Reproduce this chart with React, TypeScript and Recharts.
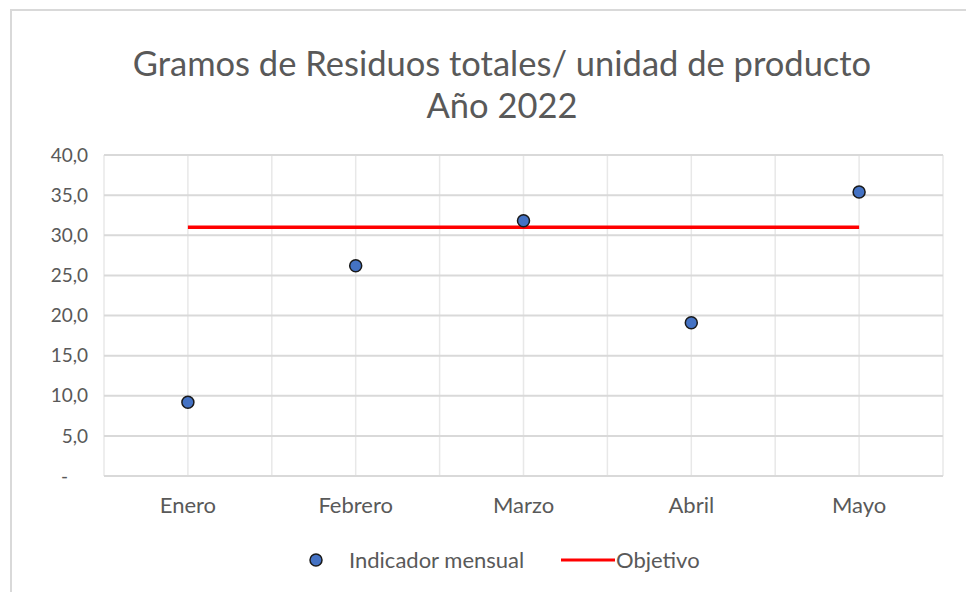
import React from "react";
import { ComposedChart, Line, XAxis, YAxis, CartesianGrid } from "recharts";

const months = ["Enero", "Febrero", "Marzo", "Abril", "Mayo"];
const indicador = [9.2, 26.2, 31.8, 19.1, 35.4];
const objetivo = [31.0, 31.0, 31.0, 31.0, 31.0];
const yTicks = [0, 5, 10, 15, 20, 25, 30, 35, 40];

const data = months.map((m, i) => ({ month: m, indicador: indicador[i], objetivo: objetivo[i] }));

const FONT = "Lato, 'Open Sans', sans-serif";
const TXT = "#595959";

const YTick = (props: any) => {
  const { x, y, payload } = props;
  const v = payload.value as number;
  const label = v === 0 ? "-" : v.toFixed(1).replace(".", ",");
  return (
    <text x={v === 0 ? x - 20 : x} y={y} dy="0.35em" textAnchor="end" fill={TXT} fontSize={19} fontFamily={FONT}>
      {label}
    </text>
  );
};

const LegendBox = () => (
  <div style={{ position: "absolute", left: 0, top: 545, width: 966, height: 32, fontFamily: FONT, fontSize: 22, color: TXT }}>
    <svg style={{ position: "absolute", left: 308, top: 7 }} width={16} height={16}>
      <circle cx={8} cy={8} r={6} fill="#4472c4" stroke="#1a1a1a" strokeWidth={1.5} />
    </svg>
    <span style={{ position: "absolute", left: 349, top: 0, lineHeight: "30px", whiteSpace: "nowrap" }}>Indicador mensual</span>
    <svg style={{ position: "absolute", left: 561, top: 13 }} width={54} height={4}>
      <line x1={0} y1={2} x2={54} y2={2} stroke="#ff0000" strokeWidth={3} />
    </svg>
    <span style={{ position: "absolute", left: 616, top: 0, lineHeight: "30px", whiteSpace: "nowrap" }}>Objetivo</span>
  </div>
);

export default function App() {
  return (
    <div style={{ position: "absolute", left: 0, top: 0, width: 966, height: 592, background: "#fff", overflow: "hidden" }}>
      <div
        style={{
          position: "absolute",
          left: 10,
          top: 9,
          width: 970,
          height: 600,
          border: "2px solid #d9d9d9",
          boxSizing: "border-box",
        }}
      />
      <div
        style={{
          position: "absolute",
          left: 0,
          top: 42,
          width: 1004,
          textAlign: "center",
          fontFamily: FONT,
          fontSize: 34.5,
          lineHeight: "42px",
          color: TXT,
        }}
      >
        Gramos de Residuos totales/ unidad de producto
        <br />
        Año 2022
      </div>
      <div style={{ position: "absolute", left: 0, top: 0 }}>
        <ComposedChart width={966} height={592} data={data} margin={{ top: 155, right: 23, bottom: 86, left: 44 }}>
          <CartesianGrid
            horizontal={false}
            stroke="#e8e8e8"
            strokeWidth={1.5}
            verticalCoordinatesGenerator={({ offset }: any) =>
              Array.from({ length: months.length * 2 + 1 }, (_, i) => offset.left + (i * offset.width) / (months.length * 2))
            }
          />
          <CartesianGrid vertical={false} stroke="#d9d9d9" strokeWidth={2} />
          <XAxis
            dataKey="month"
            scale="band"
            height={30}
            axisLine={false}
            tickLine={false}
            tickSize={6}
            tickMargin={15}
            tick={{ fill: TXT, fontSize: 22, fontFamily: FONT }}
            interval={0}
          />
          <YAxis
            width={60}
            domain={[0, 40]}
            ticks={yTicks}
            axisLine={false}
            tickLine={false}
            tickSize={6}
            tickMargin={10}
            tick={<YTick />}
            interval={0}
          />
          <Line
            dataKey="objetivo"
            name="Objetivo"
            stroke="#ff0000"
            strokeWidth={3.5}
            dot={false}
            activeDot={false}
            isAnimationActive={false}
          />
          <Line
            dataKey="indicador"
            name="Indicador mensual"
            stroke="none"
            dot={{ r: 6, fill: "#4472c4", stroke: "#1a1a1a", strokeWidth: 1.5 }}
            activeDot={false}
            isAnimationActive={false}
          />
        </ComposedChart>
      </div>
      <LegendBox />
    </div>
  );
}
